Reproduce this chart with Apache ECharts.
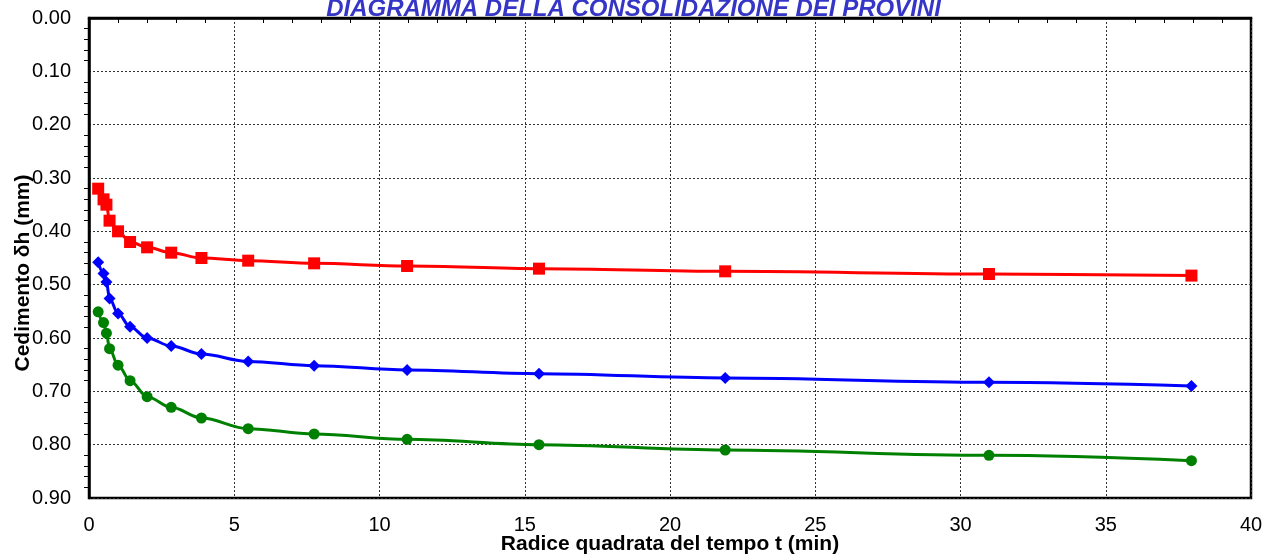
<!DOCTYPE html>
<html><head><meta charset="utf-8">
<script src="https://cdn.jsdelivr.net/npm/echarts@6/dist/echarts.min.js"></script>
<style>html,body{margin:0;padding:0;background:#fff}#c{width:1267px;height:556px}</style>
</head><body><div id="c"></div>
<script>
const sqrtTime = [0.316, 0.5, 0.6, 0.707, 1, 1.414, 2, 2.83, 3.87, 5.48, 7.75, 10.95, 15.49, 21.9, 30.98, 37.95];
const redSeries = [0.32, 0.34, 0.35, 0.38, 0.40, 0.42, 0.43, 0.44, 0.45, 0.455, 0.46, 0.465, 0.47, 0.475, 0.48, 0.483];
const blueSeries = [0.458, 0.479, 0.495, 0.526, 0.554, 0.579, 0.600, 0.615, 0.630, 0.644, 0.652, 0.660, 0.667, 0.675, 0.683, 0.690];
const greenSeries = [0.551, 0.571, 0.591, 0.620, 0.651, 0.680, 0.710, 0.730, 0.750, 0.770, 0.780, 0.790, 0.800, 0.810, 0.820, 0.830];
const titleText = 'DIAGRAMMA DELLA CONSOLIDAZIONE DEI PROVINI';
const xName = 'Radice quadrata del tempo t (min)';
const yName = 'Cedimento δh (mm)';

const pair = arr => sqrtTime.map((x, i) => [x, arr[i]]);
const font = 'Liberation Sans, Arial, sans-serif';
const chart = echarts.init(document.getElementById('c'), null, {renderer: 'canvas'});
function mk(name, data, color, symbol, size) {
  return {name, type: 'line', data: pair(data), smooth: 0.35, smoothMonotone: 'x',
    symbol, symbolSize: size, lineStyle: {color, width: 3}, itemStyle: {color}, z: 5};
}
chart.setOption({
  animation: false,
  title: {text: titleText, left: 'center', top: -8,
    textStyle: {color: '#3535c8', fontSize: 24, fontWeight: 'bold', fontStyle: 'italic', fontFamily: font}},
  grid: {left: 89, right: 16, top: 18, bottom: 58, outerBoundsMode: 'none', containLabel: false,
    show: true, borderColor: '#000', borderWidth: 2.5, backgroundColor: 'transparent'},
  xAxis: {type: 'value', min: 0, max: 40, interval: 5,
    name: xName, nameLocation: 'middle', nameGap: 36, nameMoveOverlap: false,
    nameTextStyle: {fontSize: 21, fontWeight: 'bold', color: '#000', fontFamily: font},
    axisLine: {show: true, lineStyle: {color: '#000', width: 2.5}},
    axisTick: {show: false},
    minorTick: {show: true, splitNumber: 5, length: 5, lineStyle: {color: '#000', width: 1}},
    axisLabel: {fontSize: 20, color: '#000', margin: 17, fontFamily: font},
    splitLine: {show: true, lineStyle: {color: '#333', type: [2, 2], width: 1}}},
  yAxis: {type: 'value', min: 0, max: 0.9, interval: 0.1, inverse: true,
    name: yName, nameLocation: 'middle', nameGap: 55, nameMoveOverlap: false,
    nameTextStyle: {fontSize: 21, fontWeight: 'bold', color: '#000', fontFamily: font, padding: [0, 30, 0, 0]},
    axisLine: {show: true, lineStyle: {color: '#000', width: 2.5}},
    axisTick: {show: false},
    minorTick: {show: true, splitNumber: 5, length: 5, lineStyle: {color: '#000', width: 1}},
    axisLabel: {fontSize: 20, color: '#000', margin: 18, fontFamily: font, formatter: v => v.toFixed(2)},
    splitLine: {show: true, lineStyle: {color: '#333', type: [2, 2], width: 1}}},
  series: [
    mk('Provino 1', redSeries, '#ff0000', 'rect', 12),
    mk('Provino 2', blueSeries, '#0000ff', 'diamond', 12),
    mk('Provino 3', greenSeries, '#008000', 'circle', 11)
  ]
});
</script></body></html>
